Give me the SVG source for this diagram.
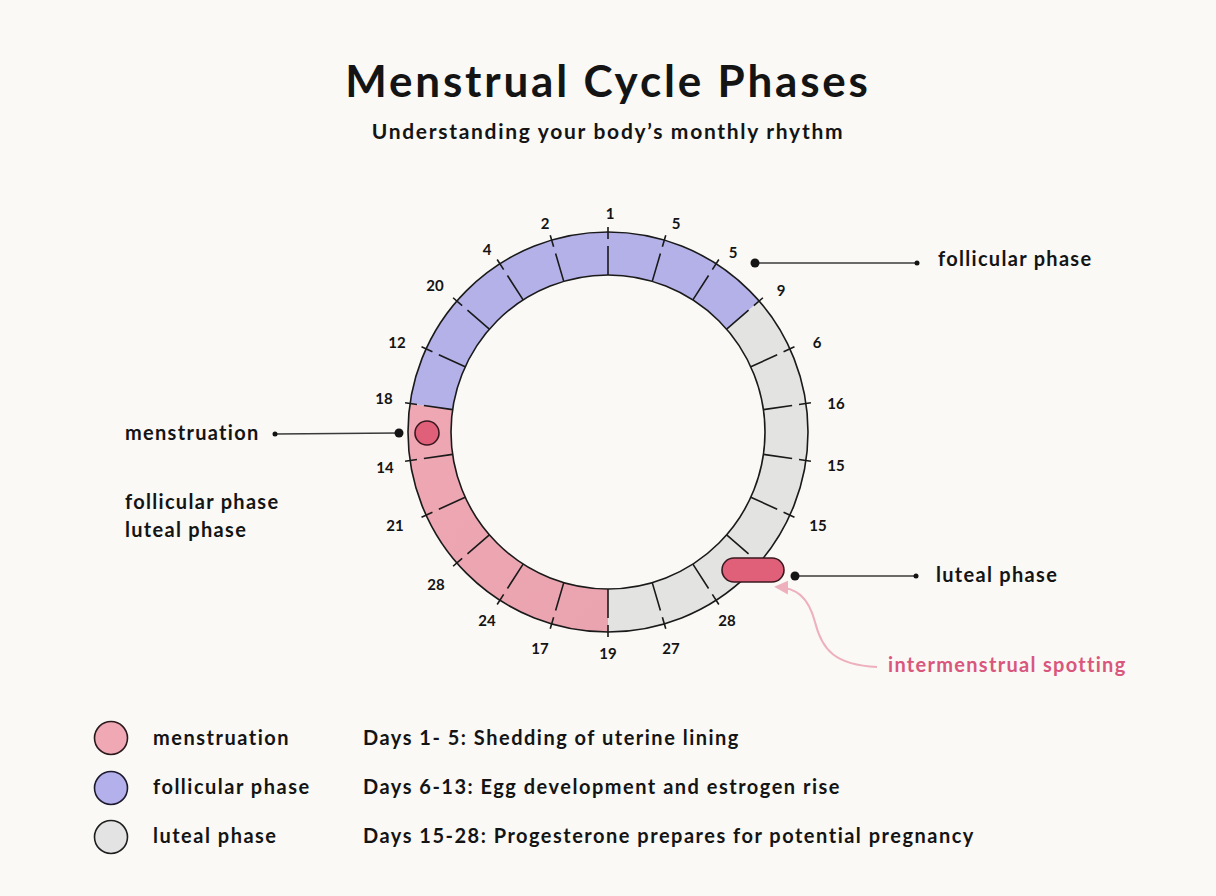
<svg xmlns="http://www.w3.org/2000/svg" width="1216" height="896" viewBox="0 0 1216 896">
<defs>
<style>
text{font-family:"Lato","Liberation Sans",sans-serif;fill:#141414;font-weight:700}
.title{font-size:44px;text-anchor:middle;letter-spacing:2.8px}
.sub{font-size:21px;text-anchor:middle;letter-spacing:1.7px}
.num{font-size:15px;text-anchor:middle}
.lbl{font-size:20px;letter-spacing:1.3px}
.leg{font-size:20px;letter-spacing:1.5px}
.tick{stroke:#1a1a1a;stroke-width:1.6;stroke-dasharray:12 7 40}
.ring{fill:none;stroke:#1a1a1a;stroke-width:1.6}
.lead{stroke:#3a3a3a;stroke-width:1.5}
.dot{fill:#141414}
.mark{fill:#e0607a;stroke:#3a1820;stroke-width:1.6}
</style>
<linearGradient id="pinkg" x1="0" y1="0" x2="1" y2="1">
<stop offset="0" stop-color="#eea7b3"/>
<stop offset="1" stop-color="#eaa4b0"/>
</linearGradient>
<marker id="ah" viewBox="0 0 10 10" refX="8" refY="5" markerWidth="7" markerHeight="7" orient="auto-start-reverse">
<path d="M0 0 L10 5 L0 10 z" fill="#eeb0bd"/>
</marker>
</defs>
<rect width="1216" height="896" fill="#faf9f6"/>

<g id="title">
<text class="title" x="608" y="97">Menstrual Cycle Phases</text>
<text class="sub" x="608" y="139">Understanding your body’s monthly rhythm</text>
</g>

<g id="cycle-ring">
<path id="seg-luteal" d="M759.15 301.03 A200 200 0 0 1 608 632 L608 589 A157 157 0 0 0 726.65 329.19 Z" fill="#e3e3e2"/>
<path id="seg-menstruation" d="M608 632 A200 200 0 0 1 410.04 403.54 L452.60 409.66 A157 157 0 0 0 608 589 Z" fill="url(#pinkg)"/>
<path id="seg-follicular" d="M410.04 403.54 A200 200 0 0 1 759.15 301.03 L726.65 329.19 A157 157 0 0 0 452.60 409.66 Z" fill="#b4b1e8"/>
<circle class="ring" cx="608" cy="432" r="200"/>
<circle class="ring" cx="608" cy="432" r="157"/>
<g id="ticks">
<line class="tick" x1="608" y1="227" x2="608" y2="275" transform="rotate(0 608 432)"/>
<line class="tick" x1="608" y1="227" x2="608" y2="275" transform="rotate(16.3636 608 432)"/>
<line class="tick" x1="608" y1="227" x2="608" y2="275" transform="rotate(32.7273 608 432)"/>
<line class="tick" x1="608" y1="227" x2="608" y2="275" transform="rotate(49.0909 608 432)"/>
<line class="tick" x1="608" y1="227" x2="608" y2="275" transform="rotate(65.4545 608 432)"/>
<line class="tick" x1="608" y1="227" x2="608" y2="275" transform="rotate(81.8182 608 432)"/>
<line class="tick" x1="608" y1="227" x2="608" y2="275" transform="rotate(98.1818 608 432)"/>
<line class="tick" x1="608" y1="227" x2="608" y2="275" transform="rotate(114.5455 608 432)"/>
<line class="tick" x1="608" y1="227" x2="608" y2="275" transform="rotate(130.9091 608 432)"/>
<line class="tick" x1="608" y1="227" x2="608" y2="275" transform="rotate(147.2727 608 432)"/>
<line class="tick" x1="608" y1="227" x2="608" y2="275" transform="rotate(163.6364 608 432)"/>
<line class="tick" x1="608" y1="227" x2="608" y2="275" transform="rotate(180 608 432)"/>
<line class="tick" x1="608" y1="227" x2="608" y2="275" transform="rotate(196.3636 608 432)"/>
<line class="tick" x1="608" y1="227" x2="608" y2="275" transform="rotate(212.7273 608 432)"/>
<line class="tick" x1="608" y1="227" x2="608" y2="275" transform="rotate(229.0909 608 432)"/>
<line class="tick" x1="608" y1="227" x2="608" y2="275" transform="rotate(245.4545 608 432)"/>
<line class="tick" x1="608" y1="227" x2="608" y2="275" transform="rotate(261.8182 608 432)"/>
<line class="tick" x1="608" y1="227" x2="608" y2="275" transform="rotate(278.1818 608 432)"/>
<line class="tick" x1="608" y1="227" x2="608" y2="275" transform="rotate(294.5455 608 432)"/>
<line class="tick" x1="608" y1="227" x2="608" y2="275" transform="rotate(310.9091 608 432)"/>
<line class="tick" x1="608" y1="227" x2="608" y2="275" transform="rotate(327.2727 608 432)"/>
<line class="tick" x1="608" y1="227" x2="608" y2="275" transform="rotate(343.6364 608 432)"/>
</g>
<g id="day-labels">
<text class="num" x="610" y="219">1</text>
<text class="num" x="676" y="229">5</text>
<text class="num" x="733" y="258">5</text>
<text class="num" x="781" y="296">9</text>
<text class="num" x="817" y="348">6</text>
<text class="num" x="836" y="409">16</text>
<text class="num" x="836" y="471">15</text>
<text class="num" x="818" y="531">15</text>
<text class="num" x="727" y="626">28</text>
<text class="num" x="671" y="654">27</text>
<text class="num" x="608" y="659">19</text>
<text class="num" x="540" y="654">17</text>
<text class="num" x="487" y="626">24</text>
<text class="num" x="436" y="590">28</text>
<text class="num" x="395" y="531">21</text>
<text class="num" x="385" y="473">14</text>
<text class="num" x="384" y="404">18</text>
<text class="num" x="397" y="348">12</text>
<text class="num" x="435" y="291">20</text>
<text class="num" x="487" y="255">4</text>
<text class="num" x="545" y="229">2</text>
</g>
</g>

<g id="connectors">
<line class="lead" x1="399" y1="433" x2="275" y2="434"/>
<circle class="dot" cx="399" cy="433" r="4.5"/>
<circle class="dot" cx="275" cy="434" r="2.5"/>
<line class="lead" x1="755" y1="263" x2="917" y2="263"/>
<circle class="dot" cx="755" cy="263" r="4.5"/>
<circle class="dot" cx="917" cy="263" r="2.5"/>
<line class="lead" x1="795" y1="576" x2="916" y2="576"/>
<circle class="dot" cx="795" cy="576" r="4.5"/>
<circle class="dot" cx="916" cy="576" r="2.5"/>
<path d="M877 667 C835 665 822 650 815 622 C808 596 796 588 777 587" fill="none" stroke="#eeb0bd" stroke-width="2" marker-end="url(#ah)"/>
</g>

<g id="menstruation-marker">
<circle class="mark" cx="427" cy="433" r="12"/>
</g>
<g id="spotting-marker">
<rect class="mark" x="722" y="558" width="62" height="24" rx="12"/>
</g>

<g id="label-menstruation"><text class="lbl" x="125" y="440">menstruation</text></g>
<g id="label-follicular-right"><text class="lbl" x="938" y="266">follicular phase</text></g>
<g id="label-luteal-right"><text class="lbl" x="936" y="582">luteal phase</text></g>
<g id="label-left-phases">
<text class="lbl" x="125" y="509">follicular phase</text>
<text class="lbl" x="125" y="537">luteal phase</text>
</g>
<g id="label-spotting"><text class="lbl" x="888" y="672" style="fill:#d9567c">intermenstrual spotting</text></g>

<g id="legend">
<g id="legend-menstruation">
<circle cx="111" cy="738" r="16.5" fill="#efa8b4" stroke="#2a1a1e" stroke-width="1.6"/>
<text class="leg" x="153" y="745">menstruation</text>
<text class="leg" x="363" y="745">Days 1- 5: Shedding of uterine lining</text>
</g>
<g id="legend-follicular">
<circle cx="111" cy="788" r="16.5" fill="#b3b0ec" stroke="#1e1a2e" stroke-width="1.6"/>
<text class="leg" x="153" y="794">follicular phase</text>
<text class="leg" x="363" y="794">Days 6-13: Egg development and estrogen rise</text>
</g>
<g id="legend-luteal">
<circle cx="111" cy="837" r="16.5" fill="#e2e3e2" stroke="#1e1e1e" stroke-width="1.6"/>
<text class="leg" x="153" y="843">luteal phase</text>
<text class="leg" x="363" y="843">Days 15-28: Progesterone prepares for potential pregnancy</text>
</g>
</g>
</svg>
